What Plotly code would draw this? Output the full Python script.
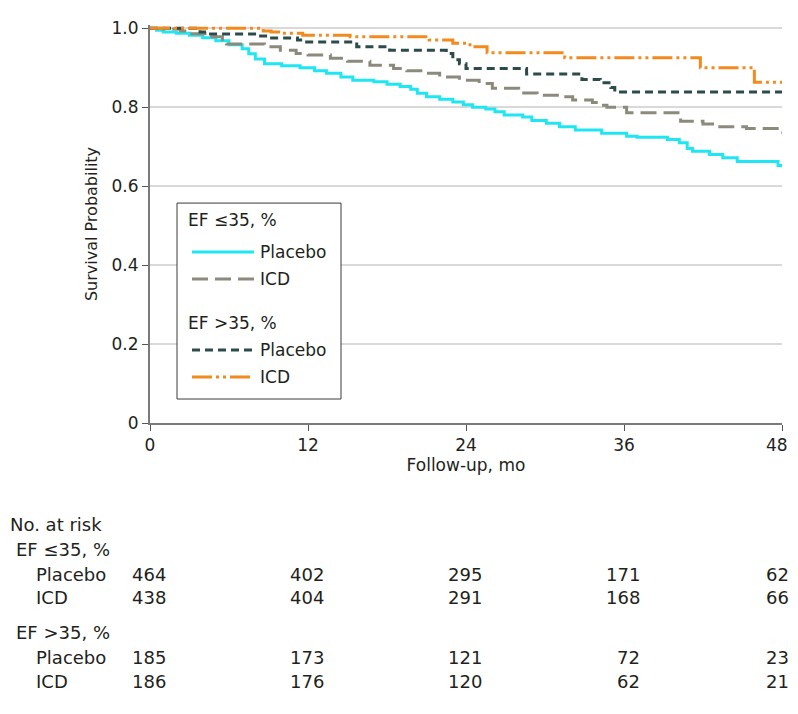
import plotly.graph_objects as go

# ---------------- data ----------------
months_ticks = [0, 12, 24, 36, 48]
month_labels = ["0", "12", "24", "36", "48"]

pl35_t = [0, 0.5, 1, 2, 3, 4, 5, 6, 7, 7.5, 8, 8.7, 10, 11.4, 12.5, 13.4, 14.5, 15.4, 17, 18, 19,
          19.8, 20.3, 21, 22, 23, 23.8, 24.5, 25.5, 26.2, 26.9, 28.3, 29, 30.1, 31.1, 32.3, 34.3,
          36.2, 37, 39.3, 40.2, 40.8, 41.2, 42.5, 43.5, 44.6, 47.7, 48]
pl35_s = [1.0, 0.995, 0.99, 0.987, 0.982, 0.976, 0.968, 0.958, 0.948, 0.935, 0.922, 0.91, 0.905,
          0.90, 0.892, 0.886, 0.876, 0.868, 0.864, 0.858, 0.852, 0.845, 0.835, 0.826, 0.82, 0.813,
          0.806, 0.80, 0.795, 0.788, 0.78, 0.775, 0.766, 0.759, 0.75, 0.742, 0.734, 0.726, 0.724,
          0.718, 0.71, 0.695, 0.688, 0.68, 0.672, 0.662, 0.652, 0.648]

icd35_t = [0, 1, 2.3, 3, 4.3, 5.5, 5.8, 8.7, 9.9, 11.1, 12, 13.7, 15, 16.7, 18.5, 19.5, 20.7, 22,
           23.5, 25, 26, 28, 29.4, 31.1, 32.1, 33.6, 34.2, 34.7, 36.2, 40.1, 40.3, 42, 43, 45.3,
           47.9, 48]
icd35_s = [1.0, 0.998, 0.993, 0.986, 0.978, 0.968, 0.96, 0.953, 0.944, 0.936, 0.932, 0.924, 0.916,
           0.906, 0.898, 0.892, 0.886, 0.876, 0.868, 0.86, 0.848, 0.836, 0.83, 0.826, 0.818, 0.812,
           0.805, 0.80, 0.786, 0.772, 0.764, 0.757, 0.75, 0.746, 0.735, 0.735]

pl_gt35_t = [0, 3.8, 4.6, 8.4, 8.9, 11.2, 11.6, 15.7, 18.2, 22.5, 23, 23.5, 24, 28.6, 32.8, 34.2,
             35, 35.3, 48]
pl_gt35_s = [1.0, 0.99, 0.985, 0.98, 0.975, 0.97, 0.965, 0.953, 0.944, 0.936, 0.92, 0.91, 0.898,
             0.884, 0.87, 0.862, 0.85, 0.838, 0.838]

icd_gt35_t = [0, 8.6, 9.2, 9.9, 11.6, 15.2, 21.2, 23, 24.3, 25.6, 31.5, 41.8, 45.9, 48]
icd_gt35_s = [1.0, 0.993, 0.99, 0.987, 0.982, 0.978, 0.97, 0.962, 0.953, 0.938, 0.925, 0.9, 0.863,
              0.863]

risk_groups = ["EF ≤35, %", "EF >35, %"]
risk_arms = ["Placebo", "ICD"]
risk_pl35 = [464, 402, 295, 171, 62]
risk_icd35 = [438, 404, 291, 168, 66]
risk_pl_gt35 = [185, 173, 121, 72, 23]
risk_icd_gt35 = [186, 176, 120, 62, 21]

# ---------------- styles ----------------
FONT = "DejaVu Sans"
TXT = "#231f20"
series = [
    (pl35_t, pl35_s, "#1fe6f2", "solid"),
    (icd35_t, icd35_s, "#8c8a7b", "16px,7px"),
    (pl_gt35_t, pl_gt35_s, "#2c4b4b", "8px,5px"),
    (icd_gt35_t, icd_gt35_s, "#f28a1e", "20px,4px,3px,4px,3px,4px"),
]

# figure sits 8px in from the page corner (body margin); design in reference pixels
OFF = 8
W, H = 798 - 2 * OFF, 714 - 2 * OFF
X0, X1 = 150, 782          # reference pixels of x = 0 and x = 48
Y1, Y0 = 28, 423           # reference pixels of y = 1.0 and y = 0
YTOP = 1.008
PW = X1 - X0
PH = (Y0 - Y1) * YTOP
L = X0 - OFF
R = W - (X1 - OFF)
B = H - (Y0 - OFF)
T = H - B - PH


def px_x(px):
    return (px - X0) / PW


def px_y(py):
    return (Y0 - py) / PH


fig = go.Figure()
for t, s, c, d in series:
    fig.add_trace(go.Scatter(x=t, y=s, mode="lines", line=dict(color=c, width=3, dash=d, shape="hv"),
                             showlegend=False, hoverinfo="skip"))

shapes = []
annotations = []

# legend box
shapes.append(dict(type="rect", xref="paper", yref="paper", x0=px_x(177), x1=px_x(341),
                   y0=px_y(399), y1=px_y(203), line=dict(color="#3a3a3a", width=1),
                   fillcolor="white", layer="above"))
leg_rows = [
    ("title", risk_groups[0], 220, None),
    ("item", risk_arms[0], 252, series[0]),
    ("item", risk_arms[1], 279, series[1]),
    ("title", risk_groups[1], 323, None),
    ("item", risk_arms[0], 350, series[2]),
    ("item", risk_arms[1], 377, series[3]),
]
for kind, text, py, ser in leg_rows:
    if kind == "title":
        annotations.append(dict(xref="paper", yref="paper", x=px_x(186), y=px_y(py), text=text,
                                showarrow=False, xanchor="left", yanchor="middle",
                                font=dict(size=17, color=TXT, family=FONT)))
    else:
        shapes.append(dict(type="line", xref="paper", yref="paper", x0=px_x(192), x1=px_x(254),
                           y0=px_y(py), y1=px_y(py), layer="above",
                           line=dict(color=ser[2], width=3, dash=ser[3])))
        annotations.append(dict(xref="paper", yref="paper", x=px_x(258), y=px_y(py), text=text,
                                showarrow=False, xanchor="left", yanchor="middle",
                                font=dict(size=17, color=TXT, family=FONT)))

# last x tick label: right-aligned so it stays inside the page
annotations.append(dict(xref="x", yref="paper", x=months_ticks[-1], y=px_y(445),
                        text=month_labels[-1], showarrow=False, xanchor="right",
                        yanchor="middle", xshift=8, font=dict(size=17, color=TXT, family=FONT)))


# risk table
def label(text, px, py):
    annotations.append(dict(xref="paper", yref="paper", x=px_x(px), y=px_y(py), text=text,
                            showarrow=False, xanchor="left", yanchor="middle",
                            font=dict(size=18, color=TXT, family=FONT)))


label("No. at risk", 8, 525)
label(risk_groups[0], 14, 550)
label(risk_arms[0], 34, 575)
label(risk_arms[1], 34, 598)
label(risk_groups[1], 14, 633)
label(risk_arms[0], 34, 658)
label(risk_arms[1], 34, 682)
for vals, py in [(risk_pl35, 575), (risk_icd35, 598), (risk_pl_gt35, 658), (risk_icd_gt35, 682)]:
    for m, v in zip(months_ticks, vals):
        annotations.append(dict(xref="x", yref="paper", x=m, y=px_y(py), text=str(v),
                                showarrow=False, xanchor="right", yanchor="middle",
                                xshift=18 if m < 48 else 9,
                                font=dict(size=18, color=TXT, family=FONT)))

fig.update_layout(
    width=W, height=H, margin=dict(l=L, r=R, t=T, b=B, autoexpand=False),
    plot_bgcolor="white", paper_bgcolor="white",
    font=dict(family=FONT, size=17, color=TXT),
    shapes=shapes, annotations=annotations,
    xaxis=dict(range=[0, 48], tickvals=months_ticks, ticktext=month_labels[:-1] + [""],
               ticks="outside", ticklen=6, tickwidth=1,
               tickcolor="#555", showline=True, linecolor="#7a7a7a", linewidth=2,
               showgrid=False, zeroline=False, tickfont=dict(size=17), automargin=False,
               title=dict(text="Follow-up, mo", font=dict(size=17), standoff=0)),
    yaxis=dict(range=[0, YTOP], tickvals=[0, 0.2, 0.4, 0.6, 0.8, 1.0],
               ticktext=["0", "0.2", "0.4", "0.6", "0.8", "1.0"], ticks="outside", ticklen=6,
               tickwidth=1, tickcolor="#555", showline=True, linecolor="#7a7a7a", linewidth=2,
               showgrid=True, gridcolor="#d9d9d9", gridwidth=1.5, zeroline=False,
               tickfont=dict(size=17), automargin=False,
               title=dict(text="Survival Probability", font=dict(size=16), standoff=10)),
)

fig.write_html("out.html")
